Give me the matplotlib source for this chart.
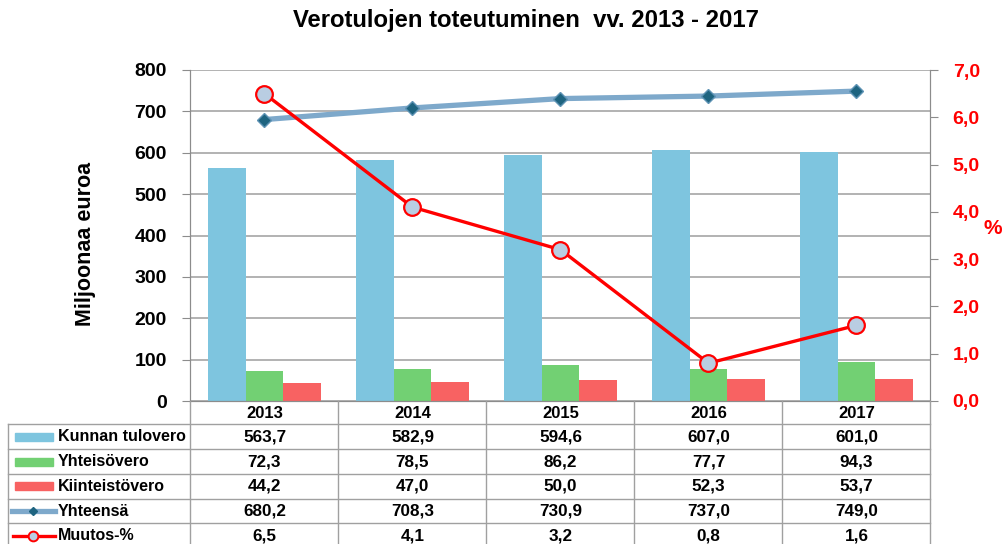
import matplotlib
matplotlib.use("Agg")
import matplotlib.pyplot as plt
from matplotlib.patches import Rectangle

plt.rcParams['font.family'] = ['Liberation Sans', 'DejaVu Sans']
plt.rcParams['font.weight'] = 'bold'

years = ["2013", "2014", "2015", "2016", "2017"]
kunnan = [563.7, 582.9, 594.6, 607.0, 601.0]
yhteiso = [72.3, 78.5, 86.2, 77.7, 94.3]
kiinteisto = [44.2, 47.0, 50.0, 52.3, 53.7]
yhteensa = [680.2, 708.3, 730.9, 737.0, 749.0]
muutos = [6.5, 4.1, 3.2, 0.8, 1.6]
series_names = ["Kunnan tulovero", "Yhteisövero", "Kiinteistövero", "Yhteensä", "Muutos-%"]
left_ticks = [0, 100, 200, 300, 400, 500, 600, 700, 800]
right_ticks = [0, 1, 2, 3, 4, 5, 6, 7]

C_BLUE = "#7EC5DF"
C_GREEN = "#72D073"
C_RED = "#F86262"
C_TOT = "#7EA9CB"
C_TOT_M = "#1E6480"
C_MUU = "#FF0000"
C_MUU_F = "#B9CDE2"
GRID = "#A6A6A6"

W, H = 1004, 544
fig = plt.figure(figsize=(W / 100, H / 100), dpi=100)

L, R, T, B = 190.5, 930.5, 70, 401
ax = fig.add_axes([L / W, (H - B) / H, (R - L) / W, (B - T) / H])
ax2 = ax.twinx()

n = len(years)
x = list(range(n))
bw = 0.253
ax.bar([i - bw for i in x], kunnan, bw, color=C_BLUE, zorder=2)
ax.bar(x, yhteiso, bw, color=C_GREEN, zorder=2)
ax.bar([i + bw for i in x], kiinteisto, bw, color=C_RED, zorder=2)
ax.plot(x, yhteensa, color=C_TOT, lw=3.8, marker='D', ms=7.5, mfc=C_TOT_M,
        mec="#5E93B5", mew=1.0, zorder=3)
ax2.plot(x, muutos, color=C_MUU, lw=2.4, marker='o', ms=12, mfc=C_MUU_F,
         mec=C_MUU, mew=1.6, zorder=4)

ax.set_xlim(-0.5, n - 0.5)
ax.set_ylim(0, 800)
ax2.set_ylim(0, 7)
ax.set_yticks(left_ticks)
ax.set_yticklabels([str(v) for v in left_ticks], fontsize=14, fontweight='bold')
ax2.set_yticks(right_ticks)
ax2.set_yticklabels([f"{v:.1f}".replace('.', ',') for v in right_ticks],
                    fontsize=14, fontweight='bold', color=C_MUU)
ax.set_xticks([])
ax.yaxis.grid(True, color=GRID, lw=1.2, zorder=0)
ax.set_axisbelow(True)
for a in (ax, ax2):
    for s in a.spines.values():
        s.set_color("#8C8C8C")
    a.spines['top'].set_visible(False)
ax.tick_params(axis='y', length=6, color="#8C8C8C", pad=11)
ax2.tick_params(axis='y', length=6, color="#8C8C8C", pad=10)

fig.text(86 / W, 1 - 244 / H, "Miljoonaa euroa", fontsize=15.5, fontweight='bold',
         rotation=90, ha='center', va='center')
fig.text(993 / W, 1 - 228 / H, "%", color=C_MUU, fontsize=15, fontweight='bold',
         ha='center', va='center')
fig.text(526 / W, 1 - 20 / H, "Verotulojen toteutuminen  vv. 2013 - 2017",
         fontsize=17.2, fontweight='bold', ha='center', va='center')

# data table drawn in pixel coordinates
tx = fig.add_axes([0, 0, 1, 1])
tx.set_xlim(0, W)
tx.set_ylim(H, 0)
tx.axis('off')
tx.patch.set_alpha(0)

col_edges = [L + i * (R - L) / n for i in range(n + 1)]
rows_y = [B, 424.3, 449.2, 474.0, 498.7, 523.4, 548.1]
lc = "#A0A0A0"
left_edge = 8.3
for yy in rows_y[1:]:
    tx.plot([left_edge, R], [yy, yy], color=lc, lw=1.0)
for xe in col_edges:
    tx.plot([xe, xe], [B, H], color=lc, lw=1.0)
tx.plot([left_edge, left_edge], [rows_y[1], H], color=lc, lw=1.0)

for i, yr in enumerate(years):
    cx = (col_edges[i] + col_edges[i + 1]) / 2
    tx.text(cx, (rows_y[0] + rows_y[1]) / 2 + 1, yr, ha='center', va='center',
            fontsize=12, fontweight='bold')

table_rows = [kunnan, yhteiso, kiinteisto, yhteensa, muutos]
for r, (name, vals) in enumerate(zip(series_names, table_rows)):
    y0, y1 = rows_y[r + 1], rows_y[r + 2]
    cy = (y0 + y1) / 2
    tx.text(58, cy, name, ha='left', va='center', fontsize=11.5, fontweight='bold')
    for i, v in enumerate(vals):
        cx = (col_edges[i] + col_edges[i + 1]) / 2
        tx.text(cx, cy, f"{v:.1f}".replace('.', ','), ha='center', va='center',
                fontsize=12.3, fontweight='bold')
    if r < 3:
        col = [C_BLUE, C_GREEN, C_RED][r]
        tx.add_patch(Rectangle((15, cy - 4), 38, 8, color=col))
    elif r == 3:
        tx.plot([12, 55], [cy, cy], color=C_TOT, lw=3.8)
        tx.plot([33], [cy], marker='D', ms=4, color=C_TOT_M)
    else:
        tx.plot([13, 55], [cy, cy], color=C_MUU, lw=2.4)
        tx.plot([33], [cy], marker='o', ms=7, mfc=C_MUU_F, mec=C_MUU, mew=1.4)

fig.savefig("out.png", dpi=100)
